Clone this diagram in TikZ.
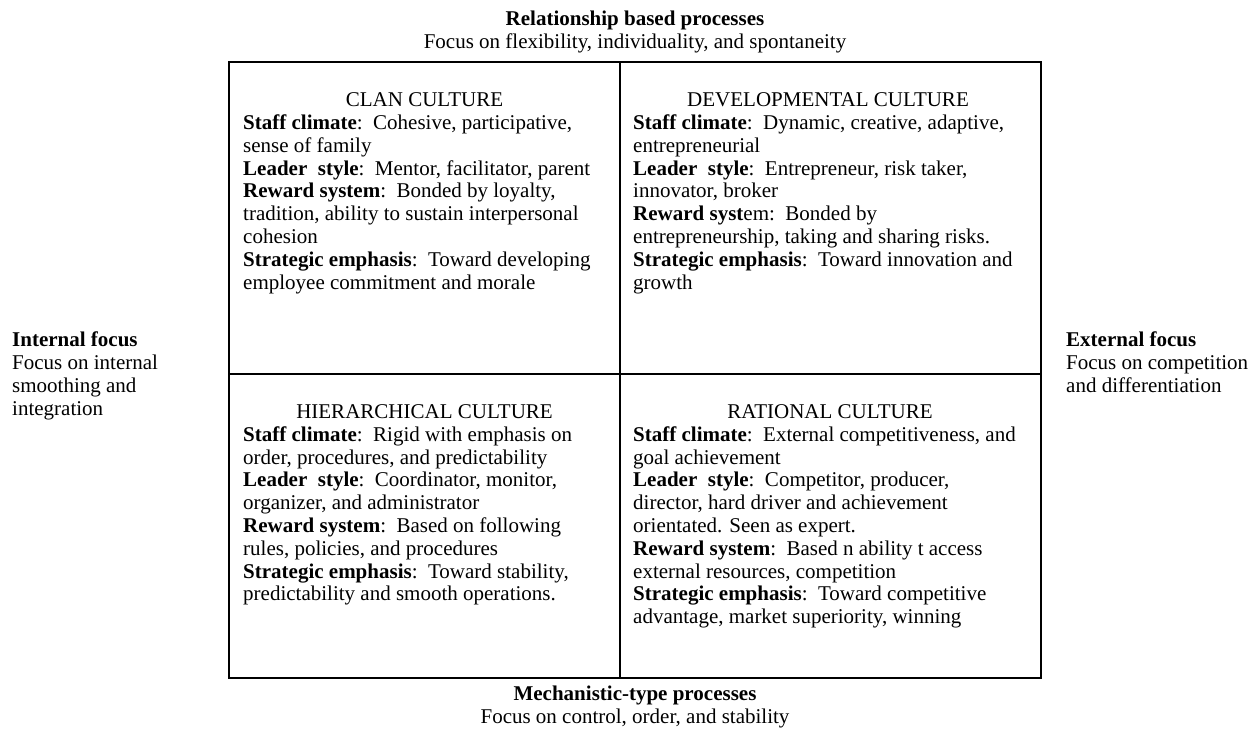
\documentclass[tikz,border=0pt]{standalone}
\usepackage{fontspec}
\setmainfont{Liberation Serif}
\newcommand{\hd}[1]{\textbf{#1}}
\newcommand{\dsp}{\ \ }
% invisible prop fixing the height of the first line of a block
\newcommand{\topprop}{\rule{0pt}{16pt}}
\begin{document}
\begin{tikzpicture}[x=1pt,y=-1pt,
  txt/.style={inner sep=0pt, font=\fontsize{21}{22.8}\selectfont},
  cell/.style={draw=black, line width=2.4pt, inner sep=0pt, outer sep=0pt,
    anchor=north west},
  ctitle/.style={txt, anchor=base},
  body/.style={txt, anchor=north west, align=left},
  side/.style={txt, anchor=north west, align=left},
  axis/.style={txt, anchor=north, align=center}]
\useasboundingbox (0,0) rectangle (1260,728);

% the four culture quadrants
\node[cell, minimum width=391pt, minimum height=312pt] (clan) at (229,62) {};
\node[cell, minimum width=421pt, minimum height=312pt] (dev) at (620,62) {};
\node[cell, minimum width=391pt, minimum height=304pt] (hier) at (229,374) {};
\node[cell, minimum width=421pt, minimum height=304pt] (rat) at (620,374) {};

% quadrant contents (first baselines at 129.3 and 441)
\node[ctitle] (clant) at (424.5,106.5) {CLAN CULTURE};
\node[body] (clanb) at (243,113.3) {\topprop%
\hd{Staff climate}:\dsp Cohesive, participative,\\
sense of family\\
\hd{Leader\dsp style}:\dsp Mentor, facilitator, parent\\
\hd{Reward system}:\dsp Bonded by loyalty,\\
tradition, ability to sustain interpersonal\\
cohesion\\
\hd{Strategic emphasis}:\dsp Toward developing\\
employee commitment and morale};

\node[ctitle] (devt) at (828,106.5) {DEVELOPMENTAL CULTURE};
\node[body] (devb) at (633,113.3) {\topprop%
\hd{Staff climate}:\dsp Dynamic, creative, adaptive,\\
entrepreneurial\\
\hd{Leader\dsp style}:\dsp Entrepreneur, risk taker,\\
innovator, broker\\
\hd{Reward syst}em:\dsp Bonded by\\
entrepreneurship, taking and sharing risks.\\
\hd{Strategic emphasis}:\dsp Toward innovation and\\
growth};

\node[ctitle] (hiert) at (424.5,418) {HIERARCHICAL CULTURE};
\node[body] (hierb) at (243,425) {\topprop%
\hd{Staff climate}:\dsp Rigid with emphasis on\\
order, procedures, and predictability\\
\hd{Leader\dsp style}:\dsp Coordinator, monitor,\\
organizer, and administrator\\
\hd{Reward system}:\dsp Based on following\\
rules, policies, and procedures\\
\hd{Strategic emphasis}:\dsp Toward stability,\\
predictability and smooth operations.};

\node[ctitle] (ratt) at (830,418) {RATIONAL CULTURE};
\node[body] (ratb) at (633,425) {\topprop%
\hd{Staff climate}:\dsp External competitiveness, and\\
goal achievement\\
\hd{Leader\dsp style}:\dsp Competitor, producer,\\
director, hard driver and achievement\\
orientated. Seen as expert.\\
\hd{Reward system}:\dsp Based n ability t access\\
external resources, competition\\
\hd{Strategic emphasis}:\dsp Toward competitive\\
advantage, market superiority, winning};

% axis labels around the grid
\node[axis] (top) at (635,9) {\topprop\hd{Relationship based processes}\\
Focus on flexibility, individuality, and spontaneity};
\node[axis] (bottom) at (635,684) {\topprop\hd{Mechanistic-type processes}\\
Focus on control, order, and stability};
\node[side] (left) at (12,330.5) {\topprop\hd{Internal focus}\\
Focus on internal\\
smoothing and\\
integration};
\node[side] (right) at (1066,330.5) {\topprop\hd{External focus}\\
Focus on competition\\
and differentiation};
\end{tikzpicture}
\end{document}
